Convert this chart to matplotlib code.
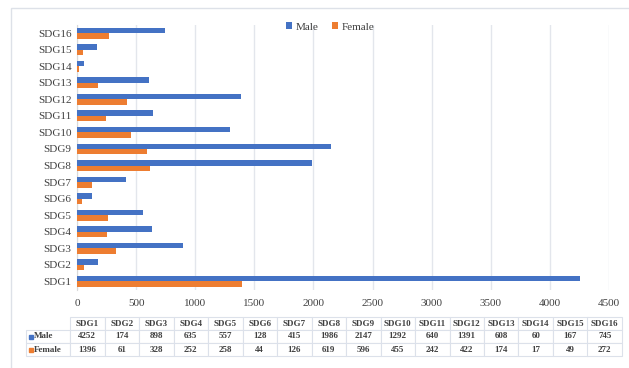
import numpy as np
import matplotlib.pyplot as plt
from matplotlib.patches import Rectangle

goals = ['SDG1', 'SDG2', 'SDG3', 'SDG4', 'SDG5', 'SDG6', 'SDG7', 'SDG8',
         'SDG9', 'SDG10', 'SDG11', 'SDG12', 'SDG13', 'SDG14', 'SDG15', 'SDG16']
male = [4252, 174, 898, 635, 557, 128, 415, 1986, 2147, 1292, 640, 1391, 608, 60, 167, 745]
female = [1396, 61, 328, 252, 258, 44, 126, 619, 596, 455, 242, 422, 174, 17, 49, 272]
xticks = [0, 500, 1000, 1500, 2000, 2500, 3000, 3500, 4000, 4500]

blue = '#4472C4'
orange = '#ED7D31'
grid_c = '#E3E6EC'
text_c = '#404040'

plt.rcParams['font.family'] = ['Liberation Serif', 'DejaVu Serif']

W, H = 629, 368
fig = plt.figure(figsize=(W / 100, H / 100), dpi=100)

# chart frame
fig.patches.append(Rectangle((11 / W, -0.1), 1.2, 1 - 8 / H + 0.1, transform=fig.transFigure,
                             fill=False, edgecolor='#DDE1E8', linewidth=1.0))

ax = fig.add_axes([77 / W, 1 - 289.5 / H, (609 - 77) / W, 264.5 / H])
y = np.arange(len(goals))
h = 0.33
ax.barh(y + h / 2, male, height=h, color=blue, label='Male', zorder=3)
ax.barh(y - h / 2, female, height=h, color=orange, label='Female', zorder=3)

ax.set_xlim(0, 4500)
ax.set_ylim(-0.5, len(goals) - 0.5)
ax.set_xticks(xticks)
ax.set_yticks(y)
ax.set_yticklabels(goals)
ax.tick_params(axis='both', length=0, labelsize=8, colors=text_c)
ax.tick_params(axis='x', pad=7)
ax.tick_params(axis='y', pad=4)
ax.grid(axis='x', color=grid_c, linewidth=1.0, zorder=0)
for side in ['top', 'right', 'bottom']:
    ax.spines[side].set_visible(False)
ax.spines['left'].set_color('#D9D9D9')

fig.legend(loc='center', bbox_to_anchor=(330 / W, 1 - 27 / H), ncol=2, frameon=False,
           fontsize=8, handlelength=0.6, handleheight=0.6, handletextpad=0.3,
           columnspacing=1.2, labelcolor=text_c)

# data table under the chart
tax = fig.add_axes([26 / W, 1 - 356 / H, (622 - 26) / W, 39 / H])
tax.set_xlim(0, 1)
tax.set_ylim(0, 1)
tax.axis('off')
cells = [['Male'] + [str(v) for v in male],
         ['Female'] + [str(v) for v in female]]
label_w = 44
col_w = 34.5
widths = [label_w] + [col_w] * len(goals)
total = sum(widths)
tbl = tax.table(cellText=cells, colLabels=[''] + goals,
                colWidths=[w / total for w in widths],
                cellLoc='center', bbox=[0, 0, 1, 1])
tbl.auto_set_font_size(False)
for (r, c), cell in tbl.get_celld().items():
    cell.set_edgecolor('#DCE1EA')
    cell.set_linewidth(0.8)
    cell.get_text().set_fontsize(6.5)
    cell.get_text().set_fontweight('bold')
    cell.get_text().set_color(text_c)
    if r == 0 and c == 0:
        cell.visible_edges = ''
    if c == 0 and r > 0:
        cell.get_text().set_ha('left')
        cell._loc = 'left'
        cell.PAD = 0.19
for i, col in enumerate([blue, orange]):
    yc = (1 - i) / 3 + 1 / 6
    tax.plot(0.0085, yc, marker='s', markersize=3.2, color=col, linestyle='none')

fig.savefig('out.png', dpi=100)
